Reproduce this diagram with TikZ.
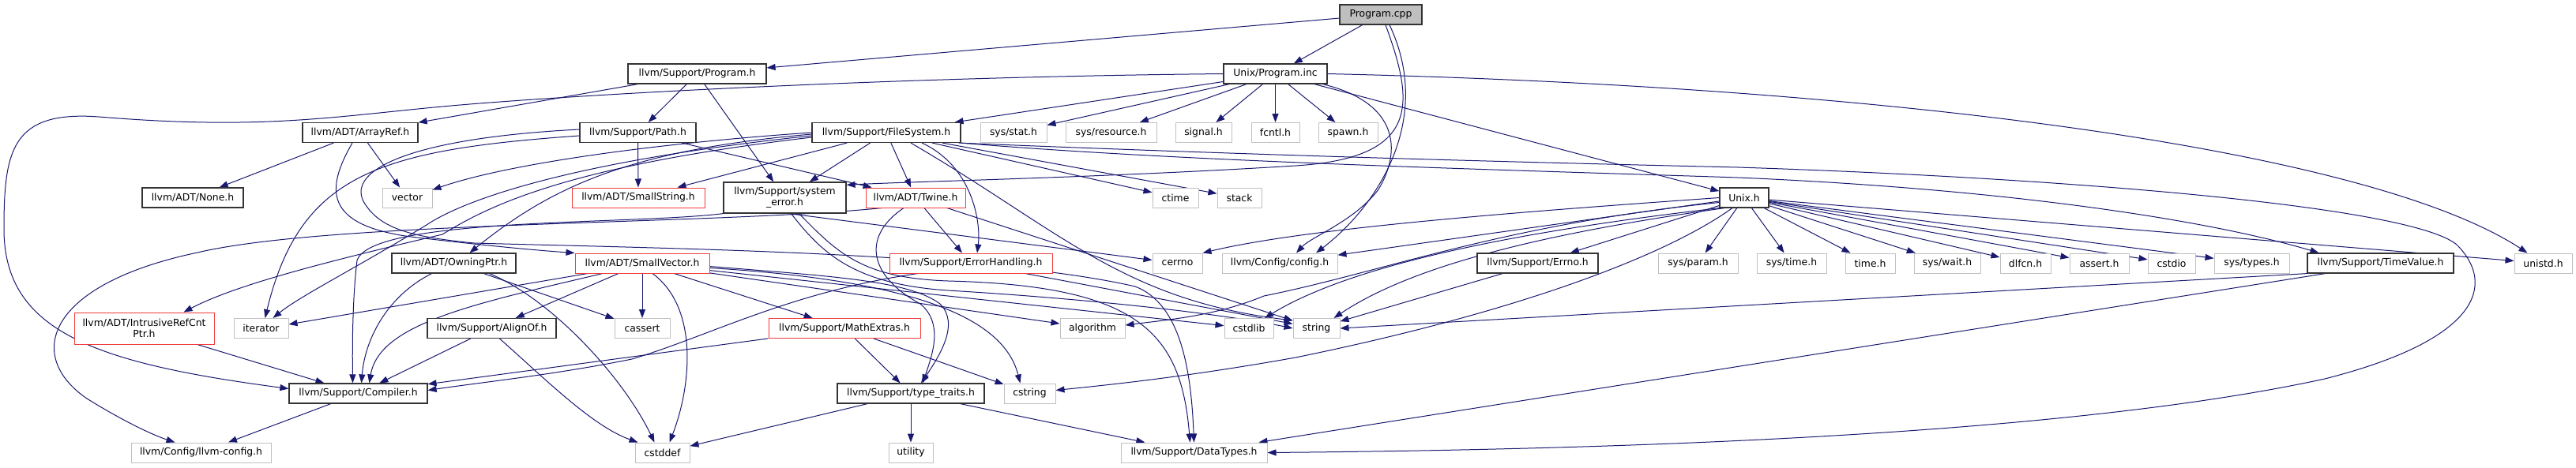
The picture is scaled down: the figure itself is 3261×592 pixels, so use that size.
\documentclass[tikz,border=0pt]{standalone}
\usepackage{fontspec}
\setmainfont{DejaVu Sans}
\usetikzlibrary{arrows.meta}
\usetikzlibrary{backgrounds}
\usepackage{xcolor}
\definecolor{depblue}{HTML}{191970}
\definecolor{boxgray}{HTML}{C0C0C0}
\definecolor{cutred}{HTML}{F03C3C}
\definecolor{rootfill}{HTML}{BFBFBF}
\newcommand{\hdrfont}{\fontsize{12.4}{14}\selectfont}
\tikzset{
  file/.style={draw=black!80, line width=1.2pt, fill=white, minimum height=25pt, inner sep=0pt, font=\hdrfont},
  sysfile/.style={file, draw=boxgray, line width=1pt},
  cutfile/.style={file, draw=cutred, line width=1pt},
  dep/.style={->, depblue, line width=1pt},
}

\begin{document}
\begin{tikzpicture}[x=1pt,y=-1pt,>={Triangle[length=11pt,width=8pt]}]
\useasboundingbox (0,0) rectangle (3261,592);
% top ranks
\node[file, fill=rootfill, minimum width=104pt] (cpp) at (1748,18.5) {Program.cpp};
\node[file, minimum width=175pt] (progh) at (882.5,93.5) {llvm/Support/Program.h};
\node[file, minimum width=131pt] (proginc) at (1614.5,93.5) {Unix/Program.inc};
\node[file, minimum width=146pt] (arrayref) at (456,168) {llvm/ADT/ArrayRef.h};
\node[file, minimum width=147pt] (path) at (807.5,168) {llvm/Support/Path.h};
\node[file, minimum width=188pt] (filesys) at (1122,168) {llvm/Support/FileSystem.h};
\node[sysfile, minimum width=84pt] (sysstat) at (1283,168) {sys/stat.h};
\node[sysfile, minimum width=115pt] (sysres) at (1406.5,168) {sys/resource.h};
\node[sysfile, minimum width=71pt] (signal) at (1523.5,168) {signal.h};
\node[sysfile, minimum width=61pt] (fcntl) at (1614.5,168) {fcntl.h};
\node[sysfile, minimum width=75pt] (spawn) at (1706.5,168) {spawn.h};
% rank 3
\node[file, minimum width=128pt] (none) at (244,250.5) {llvm/ADT/None.h};
\node[sysfile, minimum width=63pt] (vector) at (515.5,250.5) {vector};
\node[cutfile, minimum width=168pt] (smallstr) at (808,250.5) {llvm/ADT/SmallString.h};
\node[file, minimum width=155pt, minimum height=39pt, align=center] (syserr) at (993.5,250.5) {llvm/Support/system\\\_error.h};
\node[cutfile, minimum width=126pt] (twine) at (1159,250.5) {llvm/ADT/Twine.h};
\node[sysfile, minimum width=58pt] (ctime) at (1488,250.5) {ctime};
\node[sysfile, minimum width=56pt] (stack) at (1569,250.5) {stack};
\node[file, minimum width=62pt] (unixh) at (2208,250.5) {Unix.h};
% rank 4
\node[file, minimum width=157pt] (owning) at (574.5,333.5) {llvm/ADT/OwningPtr.h};
\node[cutfile, minimum width=170pt] (smallvec) at (813,333.5) {llvm/ADT/SmallVector.h};
\node[cutfile, minimum width=206pt] (errh) at (1229,333.5) {llvm/Support/ErrorHandling.h};
\node[sysfile, minimum width=63pt] (cerrno) at (1490.5,333.5) {cerrno};
\node[sysfile, minimum width=146pt] (config) at (1620,333.5) {llvm/Config/config.h};
\node[file, minimum width=153pt] (errno) at (1946.5,333.5) {llvm/Support/Errno.h};
\node[sysfile, minimum width=101pt] (sysparam) at (2149.5,333.5) {sys/param.h};
\node[sysfile, minimum width=88pt] (systime) at (2268,333.5) {sys/time.h};
\node[sysfile, minimum width=63pt] (timeh) at (2367.5,333.5) {time.h};
\node[sysfile, minimum width=84pt] (syswait) at (2465,333.5) {sys/wait.h};
\node[sysfile, minimum width=64pt] (dlfcn) at (2564,333.5) {dlfcn.h};
\node[sysfile, minimum width=75pt] (asserth) at (2657.5,333.5) {assert.h};
\node[sysfile, minimum width=60pt] (cstdio) at (2749,333.5) {cstdio};
\node[sysfile, minimum width=95pt] (systypes) at (2850.5,333.5) {sys/types.h};
\node[file, minimum width=185pt] (timeval) at (3013.5,333.5) {llvm/Support/TimeValue.h};
\node[sysfile, minimum width=73pt] (unistd) at (3219.5,333.5) {unistd.h};
% rank 5
\node[cutfile, minimum width=177pt, minimum height=40pt, align=center] (intrusive) at (182.5,416) {llvm/ADT/IntrusiveRefCnt\\Ptr.h};
\node[sysfile, minimum width=69pt] (iterator) at (330.5,416) {iterator};
\node[file, minimum width=163pt] (alignof) at (622.5,416) {llvm/Support/AlignOf.h};
\node[sysfile, minimum width=70pt] (cassert) at (813,416) {cassert};
\node[cutfile, minimum width=192pt] (mathex) at (1069,416) {llvm/Support/MathExtras.h};
\node[sysfile, minimum width=82pt] (algorithm) at (1383,416) {algorithm};
\node[sysfile, minimum width=62pt] (cstdlib) at (1581,416) {cstdlib};
\node[sysfile, minimum width=59pt] (string) at (1666.5,416) {string};
% rank 6, 7
\node[file, minimum width=175pt] (compiler) at (453.5,498.5) {llvm/Support/Compiler.h};
\node[file, minimum width=186pt] (typetr) at (1153,498.5) {llvm/Support/type\_traits.h};
\node[sysfile, minimum width=65pt] (cstring) at (1303.5,498.5) {cstring};
\node[sysfile, minimum width=177pt] (llvmcfg) at (254.5,573.5) {llvm/Config/llvm-config.h};
\node[sysfile, minimum width=69pt] (cstddef) at (838.5,573.5) {cstddef};
\node[sysfile, minimum width=56pt] (utility) at (1153,573.5) {utility};
\node[sysfile, minimum width=185pt] (datatypes) at (1511.5,573.5) {llvm/Support/DataTypes.h};

\begin{scope}[on background layer]
\fill[white] (0,0) rectangle (3261,592);
% Program.cpp
\draw[dep] (cpp) -- (progh);
\draw[dep] (cpp) -- (proginc);
\draw[dep] ([xshift=11pt]cpp.south) .. controls (1815,150) and (1745,260) .. ([xshift=46pt]config.north);
\draw[dep] ([xshift=6pt]cpp.south) .. controls (1790,130) and (1800,200) .. (1640,210) .. controls (1400,225) and (1150,230) .. ([yshift=-4pt]syserr.north east);
% Unix/Program.inc
\foreach \t in {filesys,sysstat,sysres,signal,fcntl,spawn,unixh}
  \draw[dep] (proginc) -- (\t);
\draw[dep] ([xshift=60pt]proginc.south) .. controls (1770,130) and (1775,190) .. (1745,240) .. controls (1715,280) and (1660,300) .. ([xshift=21pt]config.north);
\draw[dep] (proginc.east) .. controls (2400,110) and (3000,190) .. ([xshift=-20pt]unistd.north);
\draw[dep] (proginc.west) .. controls (1100,98) and (700,122) .. (560,135) .. controls (420,148) and (330,165) .. (125,148) .. controls (15,140) and (5,190) .. (5,290) .. controls (5,420) and (120,460) .. ([yshift=6pt]compiler.west);
% Program.h, ArrayRef.h, Path.h
\draw[dep] (progh) -- (arrayref);
\draw[dep] (progh) -- (path);
\draw[dep] (progh) -- (syserr);
\draw[dep] (arrayref) -- (none);
\draw[dep] (arrayref) -- (vector);
\draw[dep] ([xshift=-10pt]arrayref.south) .. controls (412,240) and (410,285) .. (520,300) .. controls (620,312) and (690,318) .. (smallvec.north west);
\draw[dep] (path) -- (smallstr);
\draw[dep] (path) -- (twine);
\draw[dep] ([yshift=-4pt]path.west) .. controls (480,190) and (380,220) .. ([xshift=5pt]iterator.north);
\draw[dep] ([yshift=4pt]path.west) .. controls (520,175) and (440,215) .. (460,255) .. controls (480,290) and (520,300) .. (600,308) .. controls (850,315) and (1250,320) .. (1437,363) .. controls (1495,385) and (1508,470) .. (datatypes.north);
% FileSystem.h
\foreach \t in {smallstr,syserr,twine,ctime,stack}
  \draw[dep] (filesys) -- (\t);
\draw[dep] ([xshift=45pt]filesys.south) .. controls (1230,210) and (1242,280) .. ([xshift=8pt]errh.north);
\draw[dep] ([xshift=31pt]filesys.south) .. controls (1340,290) and (1420,380) .. ([yshift=-3pt]string.north west);
\draw[dep] (filesys.west) .. controls (850,180) and (650,205) .. ([yshift=-3pt]vector.north east);
\draw[dep] ([yshift=-2pt]filesys.west) .. controls (800,190) and (700,235) .. ([xshift=20pt]owning.north);
\draw[dep] ([yshift=-4pt]filesys.west) .. controls (760,200) and (600,245) .. (540,285) .. controls (450,340) and (380,375) .. ([xshift=15pt]iterator.north);
\draw[dep] ([yshift=-6pt]filesys.west) .. controls (720,210) and (620,260) .. (560,297) .. controls (420,330) and (300,360) .. ([xshift=50pt]intrusive.north);
\draw[dep] (filesys.south east) .. controls (1500,205) and (1900,215) .. (2200,225) .. controls (2550,240) and (2800,280) .. ([xshift=-78pt]timeval.north);
\draw[dep] ([xshift=-3pt]filesys.south east) .. controls (1600,197) and (1900,205) .. (2200,212) .. controls (2600,225) and (3050,260) .. (3110,310) .. controls (3160,360) and (3140,430) .. (2943,480) .. controls (2600,555) and (2000,570) .. (datatypes.east);
% system_error.h
\draw[dep] ([xshift=5pt]syserr.south) -- ([yshift=4pt]cerrno.west);
\draw[dep] ([xshift=8pt]syserr.south) .. controls (1040,320) and (1080,360) .. (1200,368) .. controls (1400,380) and (1560,400) .. (string.west);
\draw[dep] ([xshift=18pt]syserr.south) .. controls (1060,320) and (1090,352) .. (1200,356) .. controls (1440,362) and (1495,420) .. ([xshift=-5pt]datatypes.north);
\draw[dep] (syserr.south west) .. controls (800,285) and (470,275) .. (452,330) .. controls (446,380) and (446,440) .. ([xshift=-7pt]compiler.north);
% Twine.h
\draw[dep] (twine) -- (errh);
\draw[dep] (twine) -- (string);
\draw[dep] ([xshift=-15pt]twine.south) .. controls (1090,300) and (1100,350) .. (1165,385) .. controls (1195,410) and (1180,450) .. ([xshift=15pt]typetr.north);
\draw[dep] ([xshift=-42pt]twine.south) .. controls (900,285) and (420,280) .. (250,320) .. controls (60,360) and (30,450) .. (110,505) .. controls (150,530) and (190,550) .. ([xshift=-33pt]llvmcfg.north);
% ErrorHandling.h
\draw[dep] ([xshift=-67pt]errh.south) .. controls (1000,370) and (900,425) .. (800,455) .. controls (700,475) and (620,483) .. ([yshift=4pt]compiler.east);
\draw[dep] (errh) -- (string);
% SmallVector.h
\foreach \t in {alignof,cassert,mathex,algorithm,cstdlib}
  \draw[dep] (smallvec) -- (\t);
\draw[dep] ([xshift=-69pt]smallvec.south) -- ([yshift=5pt]iterator.east);
\draw[dep] ([xshift=-50pt]smallvec.south) .. controls (600,385) and (480,410) .. ([xshift=14pt]compiler.north);
\draw[dep] ([xshift=13pt]smallvec.south) .. controls (885,390) and (875,490) .. ([xshift=9pt]cstddef.north);
\draw[dep] ([yshift=-4pt]smallvec.east) .. controls (1050,350) and (1150,355) .. (1190,385) .. controls (1215,410) and (1190,450) .. ([xshift=13pt]typetr.north);
\draw[dep] ([yshift=-6pt]smallvec.east) .. controls (1150,355) and (1270,400) .. ([xshift=-12pt]cstring.north);
% OwningPtr.h, AlignOf.h, MathExtras.h, type_traits.h
\draw[dep] ([xshift=-28pt]owning.south) .. controls (490,375) and (462,430) .. ([xshift=4pt]compiler.north);
\draw[dep] (owning) -- (cassert);
\draw[dep] ([xshift=45pt]owning.south) .. controls (700,380) and (790,480) .. ([xshift=-10pt]cstddef.north);
\draw[dep] (alignof) -- (compiler);
\draw[dep] ([xshift=10pt]alignof.south) .. controls (690,480) and (750,540) .. ([xshift=4pt]cstddef.north west);
\foreach \t in {compiler,typetr,cstring}
  \draw[dep] (mathex) -- (\t);
\foreach \t in {utility,datatypes,cstddef}
  \draw[dep] (typetr) -- (\t);
\draw[dep] (intrusive) -- (compiler);
\draw[dep] (compiler) -- (llvmcfg);
% TimeValue.h, Errno.h
\draw[dep] (timeval.south west) -- (string.east);
\draw[dep] ([xshift=-70pt]timeval.south) -- ([xshift=82pt]datatypes.north);
\draw[dep] (errno) -- (string);
% Unix.h
\foreach \t in {config,errno,sysparam,systime,timeh,syswait,dlfcn,asserth,cstdio,systypes,unistd}
  \draw[dep] (unixh) -- (\t);
\draw[dep] (unixh.west) .. controls (1900,270) and (1650,290) .. (cerrno.north east);
\draw[dep] ([xshift=-25pt]unixh.south) .. controls (1960,295) and (1790,335) .. ([xshift=22pt]string.north);
\draw[dep] ([xshift=-15pt]unixh.south) .. controls (2100,330) and (1900,400) .. (1640,453) .. controls (1500,478) and (1400,488) .. ([yshift=4pt]cstring.east);
\draw[dep] (unixh.south west) .. controls (1950,290) and (1720,330) .. ([xshift=20pt]cstdlib.north);
\draw[dep] ([yshift=-6pt]unixh.west) .. controls (1900,285) and (1750,345) .. (1600,375) .. controls (1540,400) and (1480,405) .. ([yshift=4pt]algorithm.east);
\end{scope}
\end{tikzpicture}
\end{document}
